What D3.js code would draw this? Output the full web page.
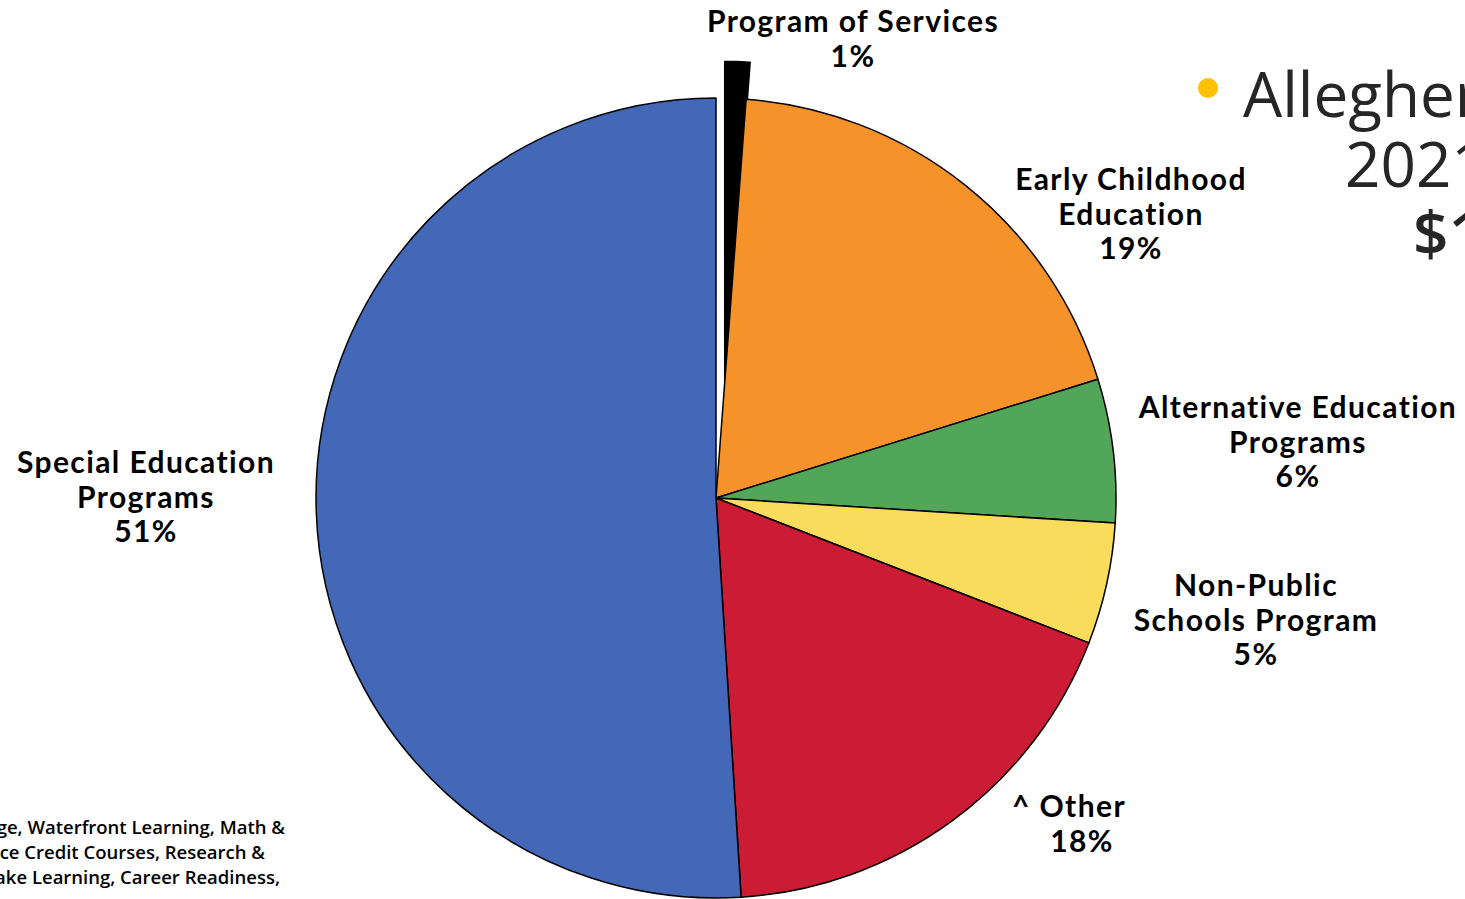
<!DOCTYPE html>
<html>
<head>
<meta charset="utf-8">
<script src="https://cdn.jsdelivr.net/npm/d3@7"></script>
<style>
  html, body { margin: 0; padding: 0; background: #fff; overflow: hidden; }
  svg { display: block; }
</style>
</head>
<body>
<svg id="chart" width="1465" height="899"></svg>
<script>
// data (order = clockwise from 12 o'clock)
const categories = ["Program of Services", "Early Childhood Education", "Alternative Education Programs",
  "Non-Public Schools Program", "^ Other", "Special Education Programs"];
const shares = [1.2, 19.0, 5.8, 4.9, 18.1, 51.0];
const pctLabels = ["1%", "19%", "6%", "5%", "18%", "51%"];
const labelLines = [
  ["Program of Services"],
  ["Early Childhood", "Education"],
  ["Alternative Education", "Programs"],
  ["Non-Public", "Schools Program"],
  ["^ Other"],
  ["Special Education", "Programs"]
];
const colors = ["#000000", "#F5922A", "#52A65A", "#F9DC5C", "#CB1B35", "#4468B8"];
const titleLines = ["Allegheny Intermediate Unit", "2021-22 Budget", "$1xx Million"];
const noteLines = [
  "Library Services, Digital Bridge, Waterfront Learning, Math &",
  "Science Collaborative, Advance Credit Courses, Research &",
  "Evaluation, Remake Learning, Career Readiness,"
];

const svg = d3.select("#chart");
const cx = 716, cy = 498, radius = 400;
const labelFont = "Lato, 'Noto Sans', sans-serif";

const pie = d3.pie().sort(null).value(d => d);
const arc = d3.arc().innerRadius(0).outerRadius(radius);
const arcs = pie(shares);

const g = svg.append("g").attr("transform", `translate(${cx},${cy})`);

// slices, the first one pulled out
g.selectAll("path")
  .data(arcs)
  .enter()
  .append("path")
  .attr("d", arc)
  .attr("fill", (d, i) => colors[i])
  .attr("stroke", (d, i) => i === 0 ? "#fff" : "#000")
  .attr("stroke-width", (d, i) => i === 0 ? 3 : 1.5)
  .attr("stroke-linejoin", "round")
  .attr("transform", (d, i) => {
    if (i !== 0) return null;
    const a = (d.startAngle + d.endAngle) / 2;
    return `translate(${Math.sin(a) * 39 + 5},${-Math.cos(a) * 39})`;
  });

// label layout (centre x, first baseline y)
const labelPos = [[853, 32], [1131, 190], [1298, 418], [1256, 596], [1069, 817], [146, 473]];

arcs.forEach((d, i) => {
  const [x, y] = labelPos[i];
  const t = svg.append("text")
    .attr("x", x)
    .attr("y", y)
    .attr("text-anchor", "middle")
    .attr("font-family", labelFont)
    .attr("font-weight", 700)
    .attr("font-size", "30px")
    .attr("letter-spacing", "1.4px")
    .attr("fill", "#000");
  const lines = labelLines[i].concat([pctLabels[i]]);
  lines.forEach((ln, k) => {
    t.append("tspan")
      .attr("x", i === 4 && k === 1 ? x + 13 : x)
      .attr("dy", k === 0 ? 0 : 34.5)
      .text(ln);
  });
});

// title block (runs off the right edge)
svg.append("circle")
  .attr("cx", 1208).attr("cy", 88).attr("r", 10)
  .attr("fill", "#FFC000");

const titleX = [1243, 1345, 1413];
const titleY = [117, 187, 256];
titleLines.forEach((ln, i) => {
  svg.append("text")
    .attr("x", titleX[i])
    .attr("y", titleY[i])
    .attr("font-family", "'Open Sans', 'Noto Sans', sans-serif")
    .attr("font-weight", i === 2 ? 600 : 400)
    .attr("font-size", "62px")
    .attr("fill", "#262626")
    .text(ln);
});

// footnote, starts off the left edge
const noteRight = [285, 265, 280];
noteLines.forEach((ln, i) => {
  svg.append("text")
    .attr("x", noteRight[i])
    .attr("y", 834 + i * 25)
    .attr("text-anchor", "end")
    .attr("font-family", "'Open Sans', sans-serif")
    .attr("font-weight", 600)
    .attr("font-size", "18.5px")
    .attr("fill", "#000")
    .text(ln);
});
</script>
</body>
</html>
